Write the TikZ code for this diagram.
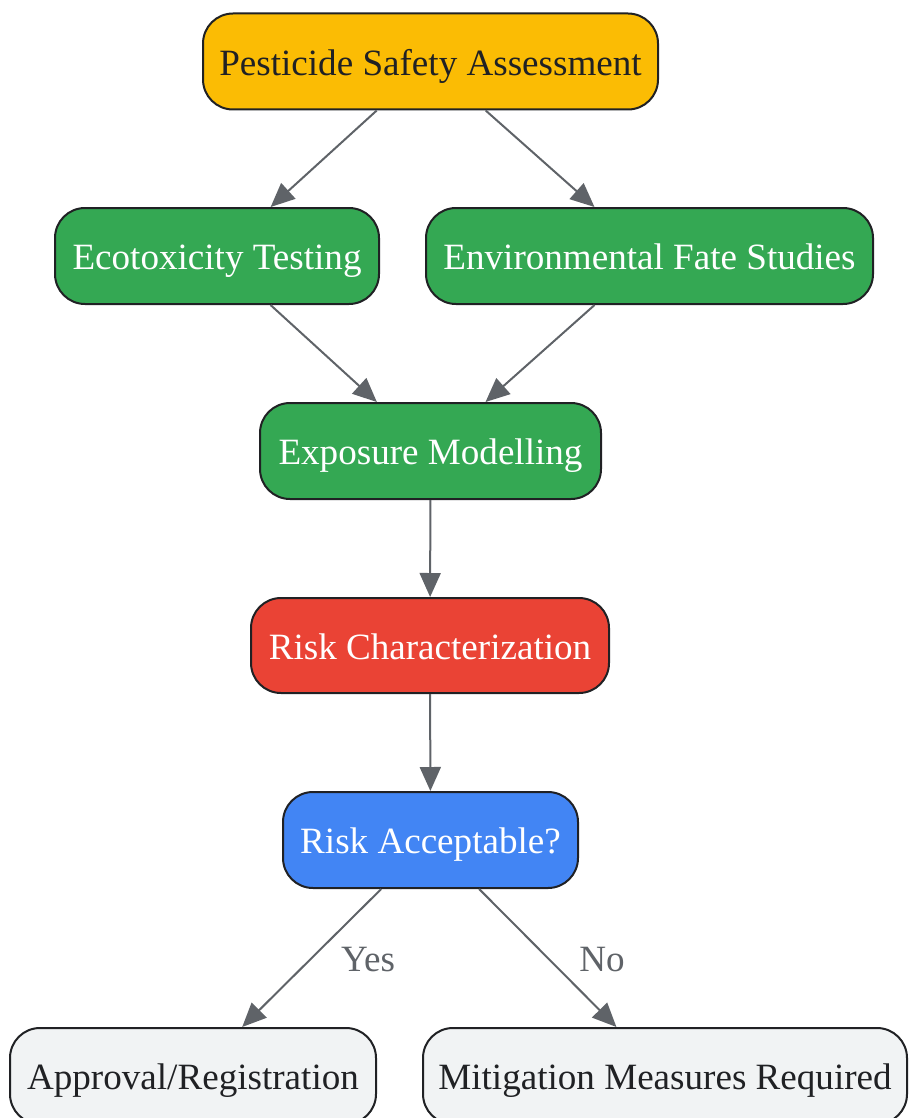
\documentclass[tikz,border=0pt]{standalone}
\usepackage{fontspec}
\setmainfont{Liberation Serif}
\usetikzlibrary{arrows.meta}
\definecolor{cyellow}{HTML}{FBBC04}
\definecolor{cgreen}{HTML}{34A853}
\definecolor{cred}{HTML}{EA4335}
\definecolor{cblue}{HTML}{4285F4}
\definecolor{cgrey}{HTML}{F1F3F4}
\definecolor{cline}{HTML}{5F6368}
\definecolor{cborder}{HTML}{202124}
\begin{document}
\begin{tikzpicture}[x=1pt,y=-1pt,
  box/.style={draw=cborder, line width=2pt, rounded corners=30pt, inner sep=0pt,
    minimum height=96pt, text height=33pt, text depth=5.5pt,
    font=\fontsize{37.1}{40}\selectfont},
  dark/.style={box, text=cborder},
  light/.style={box, text=white},
  conn/.style={draw=cline, line width=2pt, -{Triangle[length=24pt,width=21pt]}},
  lbl/.style={text=cline, inner sep=0pt, font=\fontsize{37.1}{40}\selectfont}]
\useasboundingbox (0,0) rectangle (908,1118);
\node[dark, fill=cyellow, minimum width=455pt] (psa) at (430.5,61.5) {Pesticide Safety Assessment};
\node[light, fill=cgreen, minimum width=324pt] (eco) at (217,256) {Ecotoxicity Testing};
\node[light, fill=cgreen, minimum width=447pt] (env) at (649.5,256) {Environmental Fate Studies};
\node[light, fill=cgreen, minimum width=341pt] (exp) at (430.5,451) {Exposure Modelling};
\node[light, fill=cred, minimum width=358pt, minimum height=95pt] (rc) at (430,645.5) {Risk Characterization};
\node[light, fill=cblue, minimum width=295pt] (ra) at (430.5,840) {Risk Acceptable?};
\node[dark, fill=cgrey, minimum width=366pt] (app) at (193,1076) {Approval/Registration};
\node[dark, fill=cgrey, minimum width=484pt] (mit) at (665,1076) {Mitigation Measures Required};
\draw[conn] (psa) -- (eco);
\draw[conn] (psa) -- (env);
\draw[conn] (eco) -- (exp);
\draw[conn] (env) -- (exp);
\draw[conn] (exp) -- (rc);
\draw[conn] (rc) -- (ra);
\draw[conn] (ra) -- (app);
\draw[conn] (ra) -- (mit);
\node[lbl] (yes) at (368,960) {Yes};
\node[lbl] (no) at (602,960) {No};
\end{tikzpicture}
\end{document}
